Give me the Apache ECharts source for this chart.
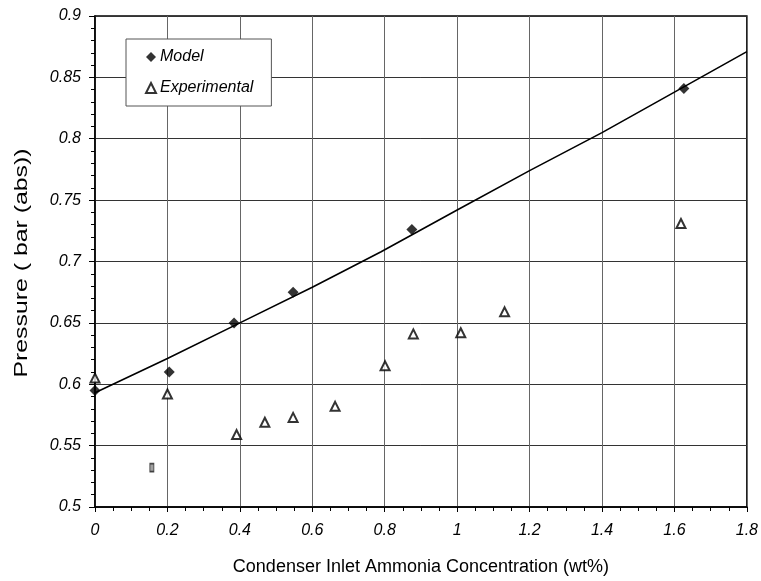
<!DOCTYPE html>
<html>
<head>
<meta charset="utf-8">
<script src="https://cdn.jsdelivr.net/npm/echarts@6/dist/echarts.min.js"></script>
<style>
  html, body { margin: 0; padding: 0; background: #fff; }
  #root { width: 761px; height: 581px; }
</style>
</head>
<body>
<div id="root"></div>
<script>
// 模型点 (x, y)
var modelX = [0, 0.205, 0.384, 0.547, 0.875, 1.626];
var modelY = [0.595, 0.610, 0.650, 0.675, 0.726, 0.841];
// 实验点
var expX = [0, 0.2, 0.391, 0.469, 0.547, 0.663, 0.801, 0.879, 1.010, 1.131, 1.618];
var expY = [0.605, 0.592, 0.559, 0.569, 0.573, 0.582, 0.615, 0.641, 0.642, 0.659, 0.731];
// 拟合曲线
var fitX = [0, 0.2, 0.4, 0.6, 0.79, 1.0, 1.2, 1.4, 1.6, 1.8];
var fitY = [0.593, 0.621, 0.650, 0.679, 0.708, 0.742, 0.774, 0.805, 0.838, 0.871];
// 单独的小矩形点
var oddX = [0.157];
var oddY = [0.532];

function pairs(xs, ys) {
  return xs.map(function(x, i) { return [x, ys[i]]; });
}

var font = 'Liberation Sans, Arial, sans-serif';

var option = {
  animation: false,
  backgroundColor: '#fff',
  grid: {
    left: 95, right: 14, top: 16, bottom: 73,
    show: true, borderColor: '#000', borderWidth: 1.5
  },
  legend: {
    data: ['Model', 'Experimental'],
    orient: 'vertical',
    left: 126, top: 39,
    padding: [10, 18, 10, 19],
    itemGap: 15,
    itemWidth: 10, itemHeight: 10,
    backgroundColor: '#fff',
    borderColor: '#555',
    borderWidth: 1,
    textStyle: { fontFamily: font, fontStyle: 'italic', fontSize: 16, color: '#000', padding: [0, 0, 0, -1] }
  },
  xAxis: {
    type: 'value', min: 0, max: 1.8, interval: 0.2,
    name: 'Condenser Inlet Ammonia Concentration (wt%)',
    nameLocation: 'middle', nameGap: 51,
    nameTextStyle: { fontFamily: font, fontSize: 18, color: '#000' },
    axisLine: { lineStyle: { color: '#000', width: 1.5 } },
    axisTick: { length: 5, lineStyle: { color: '#000' } },
    minorTick: { show: true, splitNumber: 4, length: 4, lineStyle: { color: '#000' } },
    splitLine: { lineStyle: { color: '#666', width: 1 } },
    axisLabel: { fontFamily: font, fontStyle: 'italic', fontSize: 16, color: '#000', margin: 16 }
  },
  yAxis: {
    type: 'value', min: 0.5, max: 0.9, interval: 0.05,
    axisLine: { show: true, lineStyle: { color: '#000', width: 1.5 } },
    axisTick: { show: true, length: 6, lineStyle: { color: '#000' } },
    minorTick: { show: true, splitNumber: 5, length: 4, lineStyle: { color: '#000' } },
    splitLine: { lineStyle: { color: '#333', width: 1 } },
    axisLabel: { fontFamily: font, fontStyle: 'italic', fontSize: 16, color: '#000', margin: 14,
      showMinLabel: true, showMaxLabel: true }
  },
  graphic: [{
    type: 'text',
    x: 22, y: 263,
    rotation: Math.PI / 2,
    scaleX: 1.38,
    style: {
      text: 'Pressure ( bar (abs))',
      font: '18px ' + font,
      fill: '#000',
      textAlign: 'center',
      textVerticalAlign: 'middle'
    }
  }],
  series: [
    {
      name: 'fit', type: 'line', data: pairs(fitX, fitY),
      showSymbol: false, symbol: 'none',
      lineStyle: { color: '#000', width: 1.6 }, z: 2
    },
    {
      name: 'Model', type: 'scatter', data: pairs(modelX, modelY),
      symbol: 'diamond', symbolSize: 11,
      itemStyle: { color: '#000' }, z: 3
    },
    {
      name: 'Experimental', type: 'scatter', data: pairs(expX, expY),
      symbol: 'triangle', symbolSize: 9,
      itemStyle: { color: '#fff', borderColor: '#000', borderWidth: 2 }, z: 3
    },
    {
      name: 'odd', type: 'scatter', data: pairs(oddX, oddY),
      symbol: 'rect', symbolSize: [4, 8],
      itemStyle: { color: '#888', borderColor: '#222', borderWidth: 1.2 }, z: 3
    }
  ]
};

var myChart = echarts.init(document.getElementById('root'));
myChart.setOption(option);
</script>
</body>
</html>
